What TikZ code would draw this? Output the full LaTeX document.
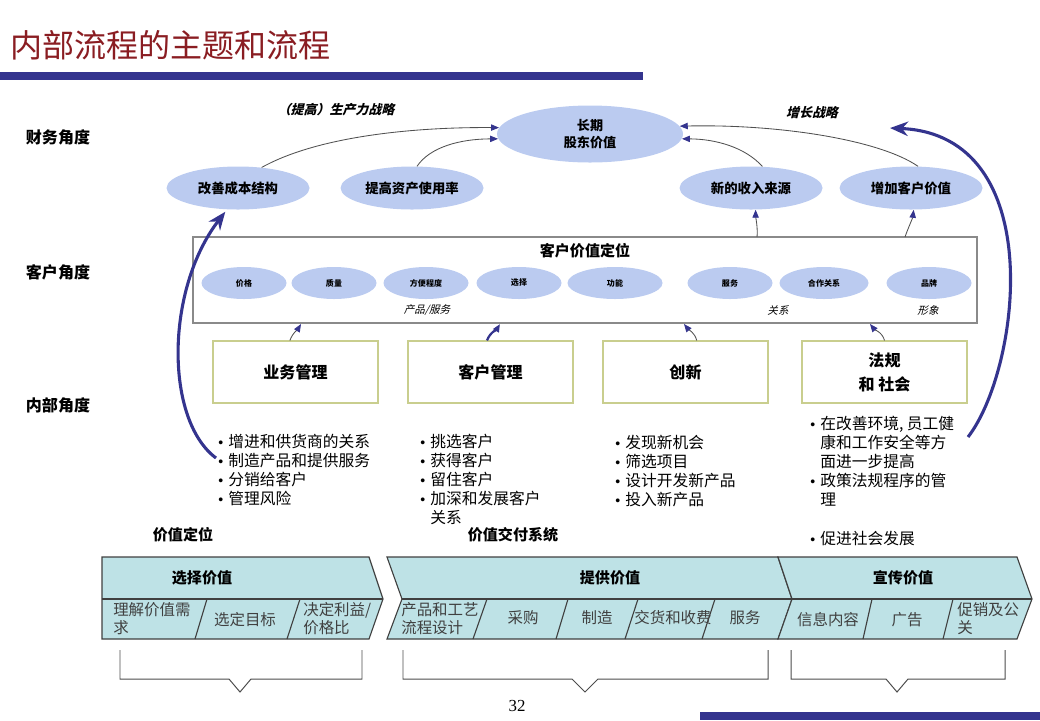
\documentclass[tikz,border=0pt]{standalone}
\usepackage{fontspec}
\setmainfont{Noto Sans CJK SC}
\newfontfamily\slfont[FakeSlant=0.25]{Noto Sans CJK SC}
\newfontfamily\numfont{Liberation Serif}
\newfontfamily\bulfont{Liberation Sans}
\usetikzlibrary{arrows.meta,shapes.geometric,positioning}
\definecolor{bsNavy}{HTML}{34348E}
\definecolor{bsTitle}{HTML}{8A1D22}
\definecolor{bsEll}{HTML}{BBCBF0}
\definecolor{bsTeal}{HTML}{BEE2E6}
\definecolor{bsOlive}{HTML}{C9CE8E}
\definecolor{bsGrey}{HTML}{8A8A8A}
\definecolor{bsLine}{HTML}{505050}
\newcommand{\bul}{\makebox[2.5mm][l]{\bulfont\fontsize{10}{10}\selectfont\textbullet}}
\newcommand{\ind}{\hspace*{2.5mm}}
\tikzset{
  ttl/.style={anchor=west, text=bsTitle, font=\fontsize{22.8}{26}\selectfont, inner sep=0pt},
  persp/.style={font=\fontsize{11.4}{13}\selectfont\bfseries, inner sep=0pt},
  fin/.style={ellipse, fill=bsEll, minimum width=35.75mm, minimum height=10.75mm, inner sep=0pt,
    font=\fontsize{9.5}{11}\selectfont\bfseries},
  ltvnode/.style={fin, minimum width=46.5mm, minimum height=14.25mm, align=center,
    font=\fontsize{9.3}{12}\selectfont\bfseries},
  strat/.style={font=\slfont\fontsize{9.2}{11}\selectfont\bfseries, inner sep=0pt},
  panel/.style={draw=bsGrey, line width=0.9pt, minimum width=196mm, minimum height=21.5mm, inner sep=0pt},
  cval/.style={ellipse, fill=bsEll, minimum width=21.25mm, minimum height=8mm, inner sep=0pt,
    font=\fontsize{5.7}{6}\selectfont\bfseries},
  sublbl/.style={font=\slfont\fontsize{7.5}{9}\selectfont, inner sep=0pt},
  ibox/.style={draw=bsOlive, thick, minimum width=41.25mm, minimum height=15.5mm, inner sep=0pt,
    align=center, font=\fontsize{11.4}{17}\selectfont\bfseries},
  blist/.style={anchor=north west, align=left, inner sep=0pt, font=\fontsize{11.2}{13.5}\selectfont},
  thinarr/.style={bsLine, line width=0.6pt, -{Triangle[length=2mm, width=1.6mm, color=bsNavy]}},
  bigarr/.style={bsNavy, line width=2.2pt, -{Stealth[length=4.5mm, width=3.6mm]}},
  hdr/.style={font=\fontsize{10.7}{12}\selectfont\bfseries, inner sep=0pt},
  chev/.style={draw=black!75, fill=bsTeal, line width=0.8pt},
  ctitle/.style={font=\fontsize{10.7}{12}\selectfont\bfseries, inner sep=0pt},
  seg/.style={font=\fontsize{11}{12.8}\selectfont, text=black!75, inner sep=0pt, align=left},
  brack/.style={draw=black!70, line width=0.7pt}
}
\begin{document}
\begin{tikzpicture}[x=0.25mm, y=-0.25mm]
  \useasboundingbox (0,0) rectangle (1040,720);
  % title and bars
  \node[ttl] (title) at (10,45) {内部流程的主题和流程};
  \fill[bsNavy] (0,72) rectangle (643,80);
  \fill[bsNavy] (700,712) rectangle (1040,720);

  % perspectives
  \node[persp] (pfin) at (58,137) {财务角度};
  \node[persp] (pcus) at (58,272) {客户角度};
  \node[persp] (pint) at (58,405) {内部角度};

  % financial perspective
  \node[ltvnode] (ltv) at (590,134) {长期\\股东价值};
  \node[fin] (fin1) at (238,188) {改善成本结构};
  \node[fin] (fin2) at (412,188) {提高资产使用率};
  \node[fin] (fin3) at (751,188) {新的收入来源};
  \node[fin] (fin4) at (911,188) {增加客户价值};
  \node[strat] (sprod) at (336,110) {（提高）生产力战略};
  \node[strat] (sgrow) at (812,113) {增长战略};
  \draw[thinarr] (fin1.41) .. controls (320,135) and (420,127) .. (ltv.176);
  \draw[thinarr] (fin2.77) .. controls (430,147) and (460,139) .. (ltv.183);
  \draw[thinarr] (fin3.62) .. controls (745,147) and (715,139) .. (ltv.357);
  \draw[thinarr] (fin4.72) .. controls (880,140) and (780,124) .. (ltv.5);

  % customer perspective
  \node[panel] (cvp) at (585,280) {};
  \node[ctitle] (cvpt) at (585,251) {客户价值定位};
  \foreach \nm/\x/\w/\txt in {v1/244/21.25/价格, v2/334/21.25/质量, v3/426/21.25/方便程度,
      v4/519/21.25/选择, v5/615/23.75/功能, v6/730/21.25/服务, v7/824/22.25/合作关系, v8/929/21.25/品牌}
    \node[cval, minimum width=\w mm] (\nm) at (\x,283) {\txt};
  \node[sublbl] (lprod) at (427,310) {产品/服务};
  \node[sublbl] (lrel) at (778,310) {关系};
  \node[sublbl] (limg) at (928,310) {形象};
  \coordinate (c3) at (757,237);
  \coordinate (c4) at (905,237);
  \draw[thinarr] (c3) .. controls +(1,-8) and +(0,6) .. (fin3.-78);
  \draw[thinarr] (c4) .. controls +(2,-6) and +(-1,8) .. (fin4.-83);

  % internal perspective
  \node[ibox] (b1) at (295.5,372) {业务管理};
  \node[ibox] (b2) at (490.5,372) {客户管理};
  \node[ibox] (b3) at (685.5,372) {创新};
  \node[ibox] (b4) at (884.5,372) {法规\\和 社会};
  \coordinate (q1) at (301,324);
  \coordinate (q2) at (500,324);
  \coordinate (q3) at (684,324);
  \coordinate (q4) at (870,324);
  \draw[thinarr] ([xshift=-4pt]b1.north) .. controls +(3,-8) and +(-3,5) .. (q1);
  \draw[thinarr, bsNavy, line width=1.6pt] ([xshift=-2.5pt]b2.north) .. controls +(3,-8) and +(-3,5) .. (q2);
  \draw[thinarr] ([xshift=8pt]b3.north) .. controls +(-2,-8) and +(4,5) .. (q3);
  \draw[thinarr] (b4.north) .. controls +(-2,-8) and +(4,5) .. (q4);

  \node[blist] (l1) at (218,434) {\bul 增进和供货商的关系\\\bul 制造产品和提供服务\\\bul 分销给客户\\\bul 管理风险};
  \node[blist] (l2) at (420,434) {\bul 挑选客户\\\bul 获得客户\\\bul 留住客户\\\bul 加深和发展客户\\\ind 关系};
  \node[blist] (l3) at (615,435) {\bul 发现新机会\\\bul 筛选项目\\\bul 设计开发新产品\\\bul 投入新产品};
  \node[blist] (l4) at (810,416) {\bul 在改善环境, 员工健\\\ind 康和工作安全等方\\\ind 面进一步提高\\\bul 政策法规程序的管\\\ind 理\\[14pt]\bul 促进社会发展};

  % strategic loops
  \coordinate (la) at (216,458);
  \coordinate (ra) at (968,437);
  \coordinate (rb) at (890,128);
  \draw[bigarr, shorten >=2pt] (la) .. controls (165,420) and (165,290) .. (fin1.243);
  \draw[bigarr] (ra) .. controls (1020,370) and (1050,135) .. (rb);

  % value chain
  \node[hdr] (h1) at (183,535) {价值定位};
  \node[hdr] (h2) at (513,535) {价值交付系统};
  \draw[chev] (102,557) -- (369,557) -- (383,599) -- (369,639) -- (102,639) -- cycle;
  \draw[chev] (387,557) -- (778,557) -- (792,599) -- (778,639) -- (387,639) -- (402,599) -- cycle;
  \draw[chev] (778,557) -- (1017,557) -- (1032,599) -- (1017,639) -- (778,639) -- (792,599) -- cycle;
  \draw[black!75, line width=0.8pt] (102,599) -- (383,599) (402,599) -- (1032,599);
  \draw[black!75, line width=0.8pt] (207,599) -- (195,639) (300,599) -- (287,639)
    (487,599) -- (473,639) (568,599) -- (556,639) (638,599) -- (625,639) (715,599) -- (702,639)
    (872,599) -- (863,639) (953,599) -- (943,639);
  \node[ctitle] (t1) at (202,578) {选择价值};
  \node[ctitle] (t2) at (610,578) {提供价值};
  \node[ctitle] (t3) at (903,578) {宣传价值};
  \node[seg, anchor=west] (s11) at (113,619) {理解价值需\\求};
  \node[seg] (s12) at (245,620) {选定目标};
  \node[seg, anchor=west] (s13) at (303,619) {决定利益/\\价格比};
  \node[seg, anchor=west] (s21) at (401,619) {产品和工艺\\流程设计};
  \node[seg] (s22) at (523,618) {采购};
  \node[seg] (s23) at (597,618) {制造};
  \node[seg] (s24) at (673,618) {交货和收费};
  \node[seg] (s25) at (745,618) {服务};
  \node[seg] (s31) at (828,620) {信息内容};
  \node[seg] (s32) at (907,620) {广告};
  \node[seg, anchor=west] (s33) at (957,619) {促销及公\\关};

  % brackets
  \draw[brack] (120,650) -- (120,679) -- (229,679) -- (240,692) -- (251,679) -- (362,679) -- (362,650);
  \draw[brack] (403,650) -- (403,679) -- (572,679) -- (585,692) -- (598,679) -- (768,679) -- (768,650);
  \draw[brack] (791,650) -- (791,679) -- (886,679) -- (897,692) -- (908,679) -- (1005,679) -- (1005,650);
  \node[font=\numfont\fontsize{12}{14}\selectfont, inner sep=0pt] (pg) at (517,706) {32};
\end{tikzpicture}
\end{document}
